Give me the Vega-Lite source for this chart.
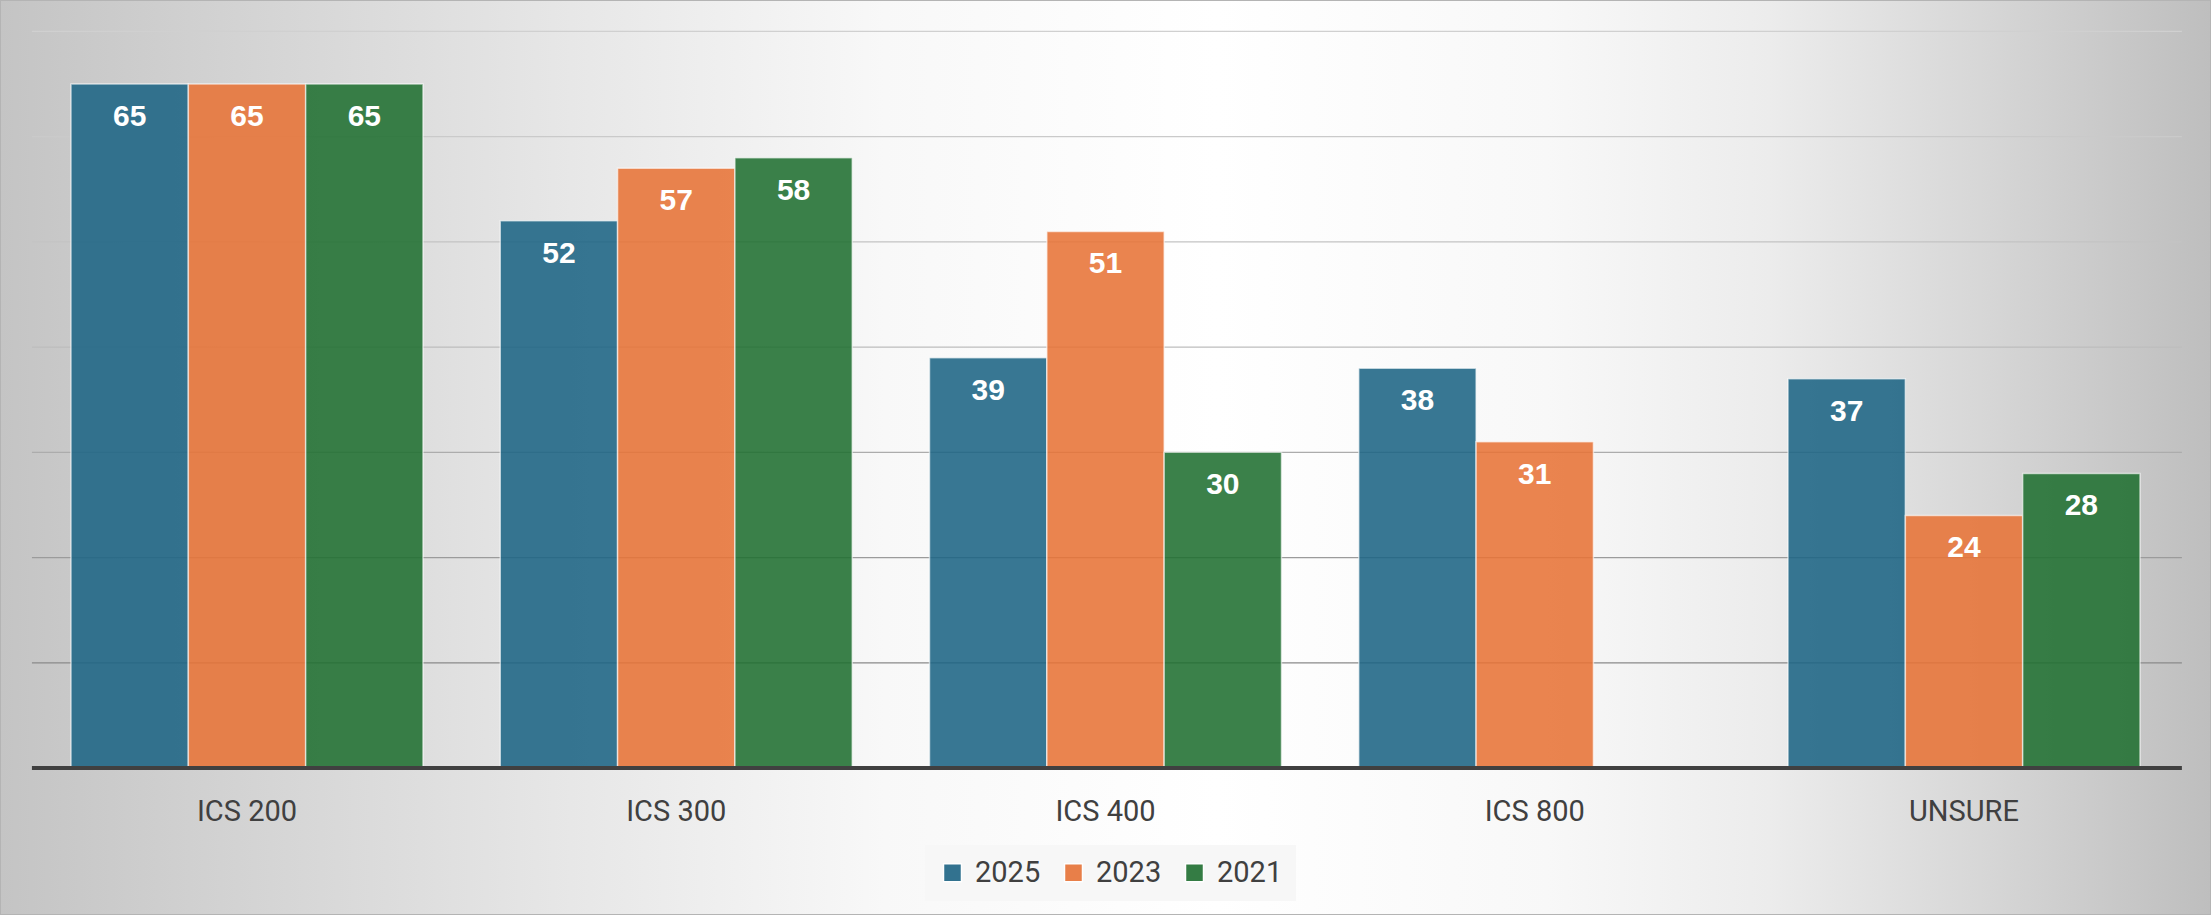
{
  "$schema": "https://vega.github.io/schema/vega-lite/v6.json",
  "width": 2211,
  "height": 915,
  "autosize": {"type": "none"},
  "padding": 0,
  "background": "#ffffff",
  "config": {
    "view": {
      "fill": {
        "gradient": "linear",
        "x1": 0, "y1": 0.5, "x2": 1, "y2": 0.5,
        "stops": [
          {"offset": 0, "color": "#c4c4c4"},
          {"offset": 0.1, "color": "#d2d2d2"},
          {"offset": 0.25, "color": "#e6e6e6"},
          {"offset": 0.4, "color": "#f8f8f8"},
          {"offset": 0.55, "color": "#ffffff"},
          {"offset": 0.7, "color": "#f8f8f8"},
          {"offset": 0.8, "color": "#ececec"},
          {"offset": 0.9, "color": "#d6d6d6"},
          {"offset": 1, "color": "#bebebe"}
        ]
      },
      "stroke": "#b4b4b4",
      "strokeWidth": 2
    },
    "legend": {
      "orient": "none",
      "legendX": 925,
      "legendY": 845,
      "direction": "horizontal",
      "fillColor": "#f7f7f7",
      "padding": 13,
      "symbolType": "square",
      "symbolSize": 324,
      "symbolStrokeColor": "#ffffff",
      "symbolStrokeWidth": 1.5,
      "symbolOpacity": 0.9,
      "labelFont": "Roboto",
      "labelFontSize": 29,
      "labelColor": "#404040",
      "labelOffset": 8,
      "columnPadding": 18
    }
  },
  "datasets": {
    "survey": [
      {"course": "ICS 200", "year": "2025", "value": 65},
      {"course": "ICS 200", "year": "2023", "value": 65},
      {"course": "ICS 200", "year": "2021", "value": 65},
      {"course": "ICS 300", "year": "2025", "value": 52},
      {"course": "ICS 300", "year": "2023", "value": 57},
      {"course": "ICS 300", "year": "2021", "value": 58},
      {"course": "ICS 400", "year": "2025", "value": 39},
      {"course": "ICS 400", "year": "2023", "value": 51},
      {"course": "ICS 400", "year": "2021", "value": 30},
      {"course": "ICS 800", "year": "2025", "value": 38},
      {"course": "ICS 800", "year": "2023", "value": 31},
      {"course": "UNSURE", "year": "2025", "value": 37},
      {"course": "UNSURE", "year": "2023", "value": 24},
      {"course": "UNSURE", "year": "2021", "value": 28}
    ],
    "grid": [
      {"g": 0}, {"g": 10}, {"g": 20}, {"g": 30}, {"g": 40}, {"g": 50}, {"g": 60}, {"g": 70}
    ]
  },
  "layer": [
    {
      "data": {"name": "grid"},
      "transform": [{"filter": "datum.g > 0"}],
      "mark": {"type": "rule", "strokeWidth": 1.3},
      "encoding": {
        "x": {"datum": "ICS 200", "type": "nominal", "bandPosition": -0.111},
        "x2": {"datum": "UNSURE", "bandPosition": 1.119},
        "y": {"field": "g", "type": "quantitative", "axis": null},
        "stroke": {
          "field": "g", "type": "quantitative",
          "scale": {"domain": [10, 40, 70], "range": ["#8a8a8a", "#bdbdbd", "#d0d0d0"]},
          "legend": null
        }
      }
    },
    {
      "data": {"name": "survey"},
      "mark": {"type": "bar", "fillOpacity": 0.88, "stroke": "#ffffff", "strokeOpacity": 0.6, "strokeWidth": 1.5},
      "encoding": {
        "x": {
          "field": "course", "type": "nominal",
          "scale": {"domain": ["ICS 200", "ICS 300", "ICS 400", "ICS 800", "UNSURE"], "paddingInner": 0.18, "paddingOuter": 0.1654},
          "axis": {
            "title": null, "orient": "bottom", "offset": -147, "domain": false, "ticks": false, "tickSize": 0,
            "bandPosition": 0.5, "labelAlign": "center",
            "grid": false, "labelAngle": 0, "labelFont": "Roboto", "labelFontSize": 29, "labelColor": "#404040", "labelPadding": 43
          }
        },
        "xOffset": {"field": "year", "type": "nominal", "scale": {"domain": ["2025", "2023", "2021"], "paddingInner": 0, "paddingOuter": 0}},
        "y": {"field": "value", "type": "quantitative", "scale": {"domain": [-13.97, 72.99], "nice": false, "zero": false}, "axis": null},
        "color": {
          "field": "year", "type": "nominal",
          "scale": {"domain": ["2025", "2023", "2021"], "range": ["#1d6484", "#e77337", "#206f31"]},
          "legend": {"title": null}
        }
      }
    },
    {
      "data": {"name": "survey"},
      "mark": {"type": "text", "baseline": "middle", "dy": 33, "fill": "#ffffff", "font": "Liberation Sans", "fontWeight": "bold", "fontSize": 30},
      "encoding": {
        "x": {"field": "course", "type": "nominal"},
        "xOffset": {"field": "year", "type": "nominal"},
        "y": {"field": "value", "type": "quantitative", "axis": null},
        "text": {"field": "value", "type": "quantitative"}
      }
    },
    {
      "data": {"name": "grid"},
      "transform": [{"filter": "datum.g == 0"}],
      "mark": {"type": "rule", "strokeWidth": 4, "stroke": "#404040"},
      "encoding": {
        "x": {"datum": "ICS 200", "type": "nominal", "bandPosition": -0.111},
        "x2": {"datum": "UNSURE", "bandPosition": 1.119},
        "y": {"field": "g", "type": "quantitative", "axis": null}
      }
    }
  ]
}
